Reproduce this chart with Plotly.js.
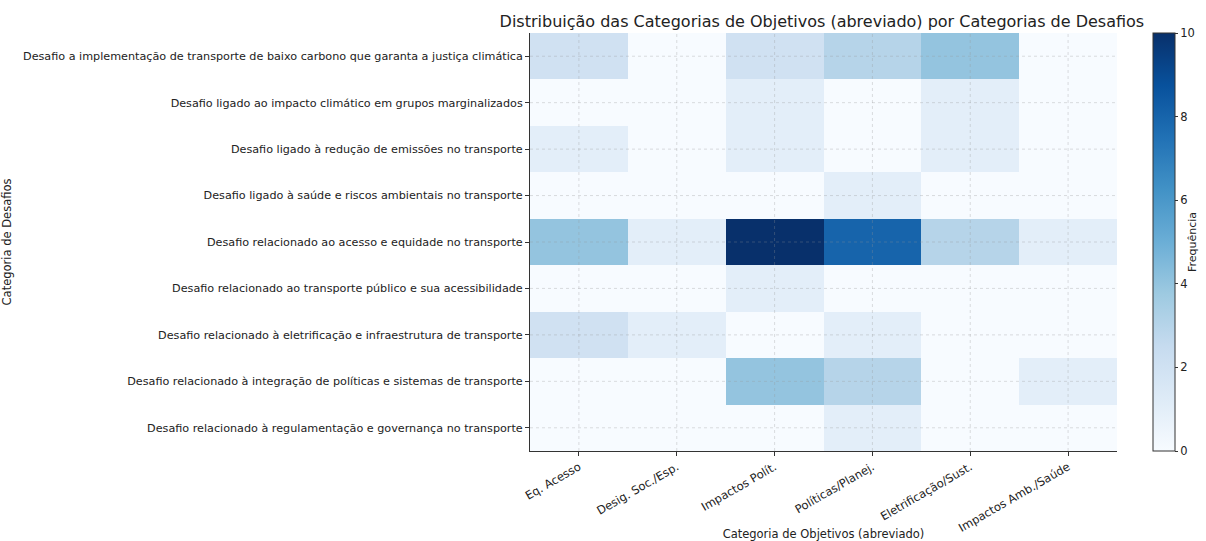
<!DOCTYPE html>
<html>
<head>
<meta charset="utf-8">
<script src="https://cdn.plot.ly/plotly-3.0.1.min.js"></script>
<style>html,body{margin:0;padding:0;background:#fff;}#chart{width:1206px;height:541px;}</style>
</head>
<body>
<div id="chart"></div>
<script>
const objetivos = ["Eq. Acesso", "Desig. Soc./Esp.", "Impactos Polít.", "Políticas/Planej.", "Eletrificação/Sust.", "Impactos Amb./Saúde"];
const desafios = [
  "Desafio a implementação de transporte de baixo carbono que garanta a justiça climática",
  "Desafio ligado ao impacto climático em grupos marginalizados",
  "Desafio ligado à redução de emissões no transporte",
  "Desafio ligado à saúde e riscos ambientais no transporte",
  "Desafio relacionado ao acesso e equidade no transporte",
  "Desafio relacionado ao transporte público e sua acessibilidade",
  "Desafio relacionado à eletrificação e infraestrutura de transporte",
  "Desafio relacionado à integração de políticas e sistemas de transporte",
  "Desafio relacionado à regulamentação e governança no transporte"
];
const row1 = [2, 0, 2, 3, 4, 0];
const row2 = [0, 0, 1, 0, 1, 0];
const row3 = [1, 0, 1, 0, 1, 0];
const row4 = [0, 0, 0, 1, 0, 0];
const row5 = [4, 1, 10, 8, 3, 1];
const row6 = [0, 0, 1, 0, 0, 0];
const row7 = [2, 1, 0, 1, 0, 0];
const row8 = [0, 0, 4, 3, 0, 1];
const row9 = [0, 0, 0, 1, 0, 0];
const z = [row1, row2, row3, row4, row5, row6, row7, row8, row9];

const blues = [
  [0.0, '#f7fbff'], [0.125, '#deebf7'], [0.25, '#c6dbef'], [0.375, '#9ecae1'],
  [0.5, '#6baed6'], [0.625, '#4292c6'], [0.75, '#2171b5'], [0.875, '#08519c'], [1.0, '#08306b']
];

const gridStyle = {color: 'rgba(150,150,150,0.45)', width: 0.7, dash: 'dot'};
const shapes = [];
objetivos.forEach(c => shapes.push({type: 'line', xref: 'x', yref: 'paper', x0: c, x1: c, y0: 0, y1: 1, line: gridStyle, layer: 'above'}));
desafios.forEach(d => shapes.push({type: 'line', xref: 'paper', yref: 'y', x0: 0, x1: 1, y0: d, y1: d, line: gridStyle, layer: 'above'}));

const trace = {
  type: 'heatmap',
  x: objetivos,
  y: desafios,
  z: z,
  zmin: 0, zmax: 10,
  colorscale: blues,
  xgap: 0, ygap: 0,
  colorbar: {
    x: 1.061, xanchor: 'left', y: 0, yanchor: 'bottom', len: 1, lenmode: 'fraction',
    thickness: 22, thicknessmode: 'pixels', xpad: 0, ypad: 0,
    outlinewidth: 1, outlinecolor: '#333',
    tickvals: [0, 2, 4, 6, 8, 10], ticks: 'outside', ticklen: 3, tickcolor: '#333',
    tickfont: {family: 'DejaVu Sans', size: 11.5, color: '#222'},
    title: {text: 'Frequência', side: 'right', font: {family: 'DejaVu Sans', size: 11, color: '#222'}}
  }
};

const layout = {
  width: 1206, height: 541,
  margin: {l: 530, r: 89, t: 33, b: 90, autoexpand: false},
  paper_bgcolor: '#fff', plot_bgcolor: '#fff',
  font: {family: 'DejaVu Sans', size: 12, color: '#222'},
  title: {text: 'Distribuição das Categorias de Objetivos (abreviado) por Categorias de Desafios',
    x: 0.6815, xanchor: 'center', y: 0.97, yanchor: 'top', font: {family: 'DejaVu Sans', size: 16, color: '#222'}},
  xaxis: {
    title: {text: 'Categoria de Objetivos (abreviado)', font: {size: 11.5}, standoff: 8},
    tickangle: -30, ticks: 'outside', ticklen: 4, tickcolor: '#333',
    showline: true, linecolor: '#333', linewidth: 1, mirror: false,
    showgrid: false, zeroline: false, tickfont: {size: 11.5}, automargin: false
  },
  yaxis: {
    title: {text: 'Categoria de Desafios', font: {size: 11.5}, standoff: 14},
    autorange: 'reversed', ticks: 'outside', ticklen: 4, tickcolor: '#333',
    showline: true, linecolor: '#333', linewidth: 1,
    showgrid: false, zeroline: false, tickfont: {size: 11.2}, automargin: false
  },
  shapes: shapes
};

Plotly.newPlot('chart', [trace], layout, {displayModeBar: false, staticPlot: true});
</script>
</body>
</html>
